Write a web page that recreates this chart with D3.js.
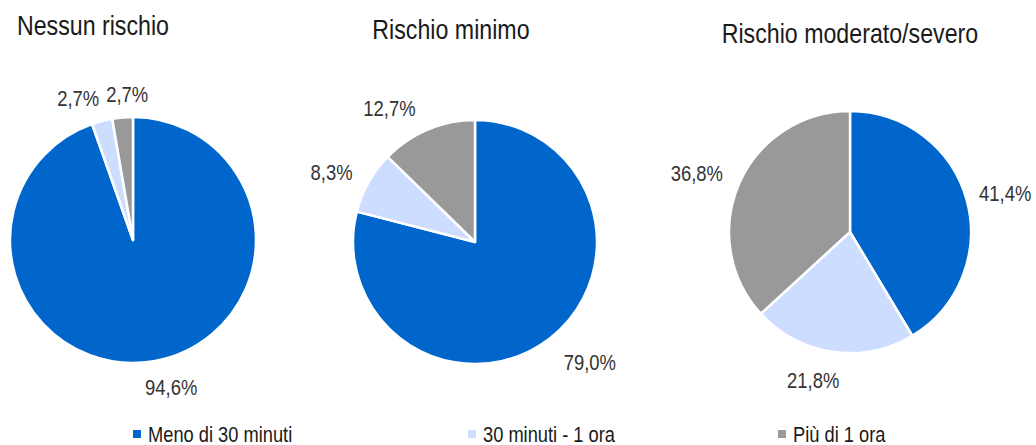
<!DOCTYPE html>
<html>
<head>
<meta charset="utf-8">
<script src="https://cdn.jsdelivr.net/npm/d3@7/dist/d3.min.js"></script>
<style>
  html, body { margin: 0; padding: 0; background: #fff; }
  svg { display: block; }
  text { font-family: "Liberation Sans", Arial, sans-serif; }
</style>
</head>
<body>
<svg id="chart" width="1036" height="445"></svg>
<script>
// ---- data ----
const categories = ["Meno di 30 minuti", "30 minuti - 1 ora", "Più di 1 ora"];
const chartTitles = ["Nessun rischio", "Rischio minimo", "Rischio moderato/severo"];
const nessunRischio = [94.6, 2.7, 2.7];
const rischioMinimo = [79.0, 8.3, 12.7];
const rischioModerato = [41.4, 21.8, 36.8];
const seriesValues = [nessunRischio, rischioMinimo, rischioModerato];

// ---- layout / style ----
const colors = ["#0066CC", "#CCDDFF", "#999999"];
const pieLayout = [
  { cx: 133, cy: 240, r: 123, titleX: 93, titleY: 35,
    labelNudge: [[10, 0], [-3, 2], [-3, 2]] },
  { cx: 475, cy: 242, r: 122, titleX: 451, titleY: 39,
    labelNudge: [[13, 3], [-3, 2], [-21, 2]] },
  { cx: 850, cy: 232, r: 121, titleX: 850, titleY: 43,
    labelNudge: [[-4, 0], [-13, 2], [-2, 0]] }
];
const legendX = [133, 468, 778];
const legendY = 434;
const SX = 0.82;           // horizontal condensing (narrow face)
const labelSize = 22.5, titleSize = 28.3, legendSize = 22.3;
const capH = 0.716;

const svg = d3.select("#chart");
const fmt = v => d3.format(".1f")(v).replace(".", ",") + "%";

// helper to measure condensed text width
const meas = svg.append("text").attr("visibility", "hidden");
function textW(str, size) {
  meas.attr("font-size", size).text(str);
  return meas.node().getComputedTextLength() * SX;
}
function condensedText(g, str, x, y, size, anchor, fill) {
  let w = textW(str, size);
  let x0 = anchor === "middle" ? x - w / 2 : anchor === "end" ? x - w : x;
  g.append("text")
    .attr("transform", `translate(${x0},${y}) scale(${SX},1)`)
    .attr("font-size", size)
    .attr("fill", fill)
    .text(str);
}

const pie = d3.pie().sort(null).value(d => d);

seriesValues.forEach((vals, i) => {
  const L = pieLayout[i];
  const arcs = pie(vals);
  const arc = d3.arc().innerRadius(0).outerRadius(L.r);

  svg.append("g").attr("transform", `translate(${L.cx},${L.cy})`)
    .selectAll("path").data(arcs).join("path")
    .attr("d", arc)
    .attr("fill", (d, j) => colors[j])
    .attr("stroke", "#fff")
    .attr("stroke-width", 2.5)
    .attr("stroke-linejoin", "round");

  // title
  condensedText(svg, chartTitles[i], L.titleX, L.titleY, titleSize, "middle", "#1a1a1a");

  // labels (outside end)
  const R = L.r + 18;
  const h = labelSize * capH;
  let labs = arcs.map((d, j) => {
    const a = (d.startAngle + d.endAngle) / 2;
    const dx = Math.sin(a), dy = -Math.cos(a);
    const str = fmt(vals[j]);
    const w = textW(str, labelSize);
    return { str, w,
      x: L.cx + dx * (R + w / 2),
      y: L.cy + dy * (R + h / 2) };
  });
  // simple overlap resolution (horizontal)
  for (let it = 0; it < 20; it++) {
    for (let a = 0; a < labs.length; a++) for (let b = a + 1; b < labs.length; b++) {
      const A = labs[a], B = labs[b];
      if (Math.abs(A.y - B.y) < h + 6) {
        const need = (A.w + B.w) / 2 + 7;
        const d = B.x - A.x;
        if (Math.abs(d) < need) {
          const s = (need - Math.abs(d)) / 2 * (d >= 0 ? 1 : -1);
          A.x -= s; B.x += s;
        }
      }
    }
  }
  labs.forEach((l, j) => {
    const n = L.labelNudge[j];
    condensedText(svg, l.str, l.x + n[0], l.y + n[1] + h / 2, labelSize, "middle", "#333333");
  });
});

// legend
categories.forEach((c, i) => {
  svg.append("rect")
    .attr("x", legendX[i]).attr("y", legendY - 4)
    .attr("width", 8).attr("height", 8)
    .attr("fill", colors[i]);
  condensedText(svg, c, legendX[i] + 15, legendY + 8, legendSize, "start", "#1a1a1a");
});
meas.remove();
</script>
</body>
</html>
